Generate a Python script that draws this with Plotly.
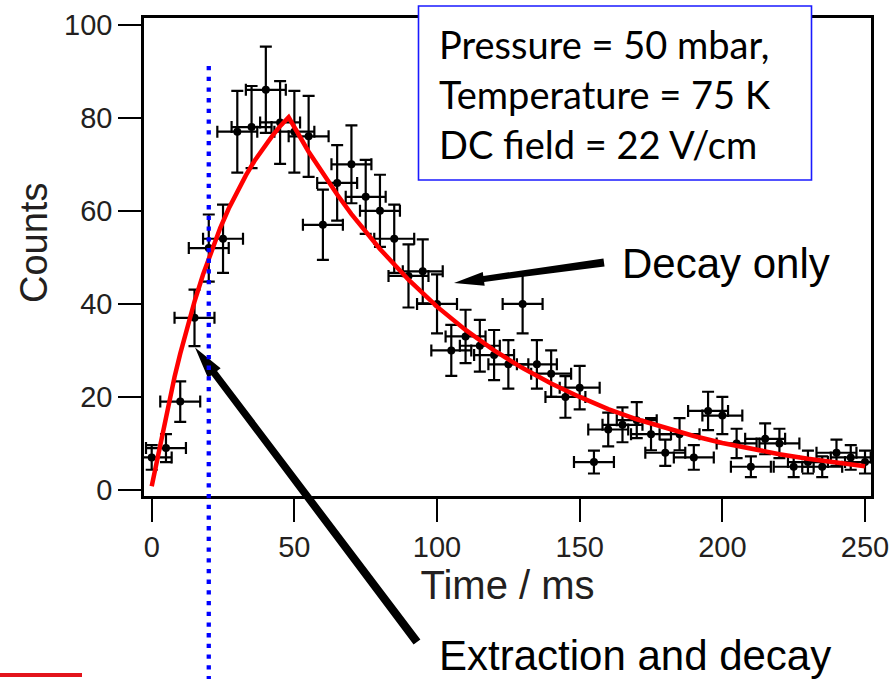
import plotly.graph_objects as go
import math

# ---------------- data ----------------
time_ms = [0, 5, 10, 15, 20, 25, 30, 35, 40, 45,
           50, 55, 60, 65, 70, 75, 80, 85, 90, 95,
           100, 105, 110, 115, 120, 125, 130, 135, 140, 145,
           150, 155, 160, 165, 170, 175, 180, 185, 190, 195,
           200, 205, 210, 215, 220, 225, 230, 235, 240, 245, 250]
counts = [7, 9, 19, 37, 52, 54, 77, 78, 86, 79,
          77, 76, 57, 66, 70, 63, 60, 54, 46, 47,
          40, 30, 33, 31, 29, 27, 40, 27, 25, 20,
          22, 6, 13, 14, 15, 12, 8, 12, 7, 17,
          16, 10, 5, 11, 10, 5, 6, 5, 8, 7, 6]
counts_err = [2.65, 3.0, 4.36, 6.08, 7.21, 7.35, 8.77, 8.83, 9.27, 8.89,
              8.77, 8.72, 7.55, 8.12, 8.37, 7.94, 7.75, 7.35, 6.78, 6.86,
              6.32, 5.48, 5.74, 5.57, 5.39, 5.20, 6.32, 5.20, 5.0, 4.47,
              4.69, 2.45, 3.61, 3.74, 3.87, 3.46, 2.83, 3.46, 2.65, 4.12,
              4.0, 3.16, 2.24, 3.32, 3.16, 2.24, 2.45, 2.24, 2.83, 2.65, 2.45]
time_err = 7

fit_t = [0, 2, 4, 6, 8, 10, 12, 15, 18, 21, 24, 27, 30, 33, 36, 39, 42, 45, 48,
         55, 60, 65, 70, 80, 90, 100, 110, 120, 130, 140, 150, 160, 170, 180,
         190, 200, 210, 220, 230, 240, 250]
fit_counts = [0.8, 6.7, 13.0, 18.9, 24.3, 29.3, 34.1, 40.5, 46.3, 51.6, 56.3, 60.5,
              64.2, 67.6, 70.7, 73.5, 75.9, 78.2, 80.1,
              72.7, 68.0, 63.5, 59.3, 51.8, 45.2, 39.4, 34.4, 30.0, 26.2, 22.9,
              20.0, 17.4, 15.2, 13.3, 11.6, 10.1, 8.8, 7.7, 6.7, 5.9, 5.1]

extraction_time = 20

x_ticks = [0, 50, 100, 150, 200, 250]
y_ticks = [0, 20, 40, 60, 80, 100]

info_lines = ["Pressure = 50 mbar,", "Temperature = 75 K", "DC field = 22 V/cm"]

# ---------------- layout geometry (pixels) ----------------
W, H = 896, 679
L, R, T, B = 144, 871, 18, 496
PW, PH = R - L, B - T


def px(x):
    return (x - L) / PW


def py(y):
    return (B - y) / PH


def arrow_path(tail, tip, w_tail=8.0, w_neck=6.0, head_w=15.0, head_len=30.0):
    dx, dy = tip[0] - tail[0], tip[1] - tail[1]
    n = math.hypot(dx, dy)
    ux, uy = dx / n, dy / n
    nx, ny = -uy, ux
    bx, by = tip[0] - ux * head_len, tip[1] - uy * head_len
    pts = [
        (tail[0] + nx * w_tail / 2, tail[1] + ny * w_tail / 2),
        (bx + nx * w_neck / 2, by + ny * w_neck / 2),
        (bx + nx * head_w / 2, by + ny * head_w / 2),
        tip,
        (bx - nx * head_w / 2, by - ny * head_w / 2),
        (bx - nx * w_neck / 2, by - ny * w_neck / 2),
        (tail[0] - nx * w_tail / 2, tail[1] - ny * w_tail / 2),
    ]
    s = "M " + " L ".join(f"{px(a):.5f},{py(b):.5f}" for a, b in pts) + " Z"
    return s


fig = go.Figure()

fig.add_trace(go.Scatter(
    x=time_ms, y=counts, mode="markers",
    marker=dict(color="black", size=8),
    error_y=dict(type="data", array=counts_err, color="black", thickness=2.2, width=6),
    error_x=dict(type="constant", value=time_err, color="black", thickness=2.2, width=6),
    showlegend=False, cliponaxis=False,
))

fig.add_trace(go.Scatter(
    x=fit_t, y=fit_counts, mode="lines",
    line=dict(color="#ff0000", width=4.5),
    showlegend=False,
))

font_axis = "Liberation Sans, Arial, sans-serif"
txt_col = "#231f20"

shapes = []
# info box
shapes.append(dict(type="rect", xref="paper", yref="paper",
                   x0=px(418.5), x1=px(811.5), y0=py(180), y1=py(6),
                   line=dict(color="#1a1aff", width=1.6), fillcolor="white", layer="above"))
# arrows
shapes.append(dict(type="path", xref="paper", yref="paper",
                   path=arrow_path((604, 262.5), (454, 283), w_tail=8, w_neck=6, head_w=14, head_len=30),
                   fillcolor="black", line=dict(width=0), layer="above"))
shapes.append(dict(type="path", xref="paper", yref="paper",
                   path=arrow_path((417, 642), (195, 347.5), w_tail=8.5, w_neck=7, head_w=16, head_len=32),
                   fillcolor="black", line=dict(width=0), layer="above"))
# extraction time marker
shapes.append(dict(type="line", xref="x", yref="paper",
                   x0=extraction_time, x1=extraction_time, y0=py(66), y1=py(682),
                   line=dict(color="#0000ff", width=4.3, dash="4.3px,6.4px"), layer="above"))
# red fragment bottom-left
shapes.append(dict(type="line", xref="paper", yref="paper",
                   x0=px(0), x1=px(82), y0=py(675), y1=py(675),
                   line=dict(color="#e3141c", width=4), layer="above"))

annotations = []
info_font = dict(family="Lato, Open Sans, sans-serif", size=38, color="black")
for i, line in enumerate(info_lines):
    annotations.append(dict(xref="paper", yref="paper", x=px(437), y=py(44 + i * 50),
                            xanchor="left", yanchor="middle", text=line, showarrow=False,
                            font=info_font))
annotations.append(dict(xref="paper", yref="paper", x=px(620), y=py(263),
                        xanchor="left", yanchor="middle", text="Decay only", showarrow=False,
                        font=dict(family=font_axis, size=42, color="black")))
annotations.append(dict(xref="paper", yref="paper", x=px(437), y=py(655),
                        xanchor="left", yanchor="middle", text="Extraction and decay", showarrow=False,
                        font=dict(family=font_axis, size=42, color="black")))
annotations.append(dict(xref="paper", yref="paper", x=px(34), y=py(243),
                        xanchor="center", yanchor="middle", text="Counts", textangle=-90,
                        showarrow=False, font=dict(family=font_axis, size=38, color=txt_col)))

fig.update_layout(
    width=W, height=H,
    margin=dict(l=L, r=W - R, t=T, b=H - B, autoexpand=False),
    paper_bgcolor="white", plot_bgcolor="white",
    shapes=shapes, annotations=annotations,
    xaxis=dict(range=[-2.7, 252.1], tickvals=x_ticks, ticks="outside", ticklen=23, tickwidth=2,
               tickcolor="black", showline=True, linecolor="black", linewidth=2.5, mirror=True,
               showgrid=False, zeroline=False,
               tickfont=dict(family=font_axis, size=29, color=txt_col),
               title=dict(text="Time / ms", font=dict(family=font_axis, size=40, color=txt_col),
                          standoff=10),
               automargin=False),
    yaxis=dict(range=[-1.29, 101.44], tickvals=y_ticks, ticks="outside", ticklen=23, tickwidth=2,
               tickcolor="black", showline=True, linecolor="black", linewidth=2.5, mirror=True,
               showgrid=False, zeroline=False,
               tickfont=dict(family=font_axis, size=29, color=txt_col),
               automargin=False),
)

fig.write_html("out.html")
